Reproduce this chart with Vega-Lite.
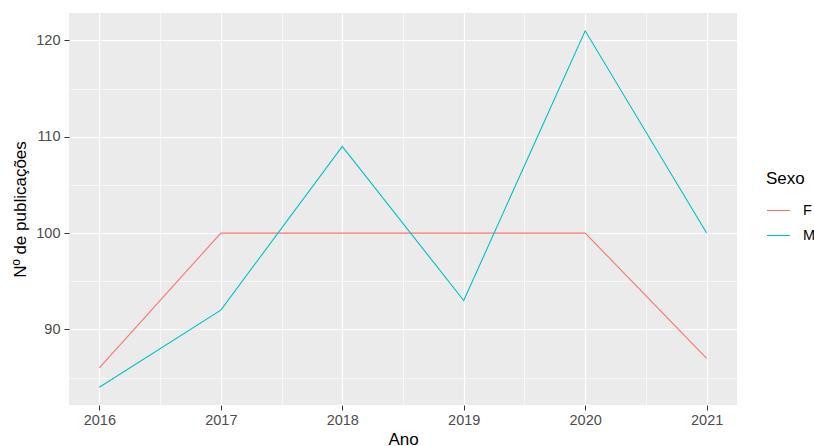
{
  "$schema": "https://vega.github.io/schema/vega-lite/v6.json",
  "width": 668,
  "height": 392,
  "autosize": {"type": "none"},
  "padding": {"left": 69, "top": 13, "right": 77, "bottom": 41},
  "background": "white",
  "config": {
    "view": {"fill": "#EBEBEB", "stroke": null},
    "font": "Liberation Sans",
    "axis": {
      "domain": false,
      "gridColor": "white",
      "tickColor": "#333333",
      "tickSize": 5,
      "labelColor": "#4D4D4D",
      "labelFontSize": 14.5,
      "titleFontSize": 17,
      "titleFontWeight": "normal",
      "titleColor": "black"
    }
  },
  "data": {
    "values": [
      {"Ano": 2016, "Sexo": "F", "n": 86},
      {"Ano": 2017, "Sexo": "F", "n": 100},
      {"Ano": 2018, "Sexo": "F", "n": 100},
      {"Ano": 2019, "Sexo": "F", "n": 100},
      {"Ano": 2020, "Sexo": "F", "n": 100},
      {"Ano": 2021, "Sexo": "F", "n": 87},
      {"Ano": 2016, "Sexo": "M", "n": 84},
      {"Ano": 2017, "Sexo": "M", "n": 92},
      {"Ano": 2018, "Sexo": "M", "n": 109},
      {"Ano": 2019, "Sexo": "M", "n": 93},
      {"Ano": 2020, "Sexo": "M", "n": 121},
      {"Ano": 2021, "Sexo": "M", "n": 100}
    ]
  },
  "mark": {"type": "line", "strokeWidth": 1.1},
  "encoding": {
    "x": {
      "field": "Ano",
      "type": "quantitative",
      "title": "Ano",
      "scale": {"domain": [2015.75, 2021.25], "nice": false, "zero": false},
      "axis": {
        "values": [2016, 2016.5, 2017, 2017.5, 2018, 2018.5, 2019, 2019.5, 2020, 2020.5, 2021],
        "labelExpr": "datum.value % 1 === 0 ? format(datum.value, 'd') : ''",
        "gridWidth": {"condition": {"test": "datum.value % 1 !== 0", "value": 0.6}, "value": 1.2},
        "tickOpacity": {"condition": {"test": "datum.value % 1 !== 0", "value": 0}, "value": 1},
        "labelPadding": 3,
        "titlePadding": 5
      }
    },
    "y": {
      "field": "n",
      "type": "quantitative",
      "title": "Nº de publicações",
      "scale": {"domain": [82.15, 122.85], "nice": false, "zero": false},
      "axis": {
        "values": [85, 90, 95, 100, 105, 110, 115, 120],
        "labelExpr": "datum.value % 10 === 0 ? datum.label : ''",
        "gridWidth": {"condition": {"test": "datum.value % 10 !== 0", "value": 0.6}, "value": 1.2},
        "tickOpacity": {"condition": {"test": "datum.value % 10 !== 0", "value": 0}, "value": 1},
        "labelPadding": 4,
        "titlePadding": 6
      }
    },
    "color": {
      "field": "Sexo",
      "type": "nominal",
      "scale": {"domain": ["F", "M"], "range": ["#F8766D", "#00BFC4"]},
      "legend": {
        "orient": "none",
        "legendX": 697,
        "legendY": 158,
        "title": "Sexo",
        "titleFontSize": 17,
        "titleFontWeight": "normal",
        "titleColor": "black",
        "labelFontSize": 14.5,
        "labelColor": "black",
        "symbolType": "stroke",
        "symbolSize": 529,
        "symbolStrokeWidth": 1.1,
        "labelOffset": 12,
        "rowPadding": 6,
        "titlePadding": 10
      }
    }
  }
}
